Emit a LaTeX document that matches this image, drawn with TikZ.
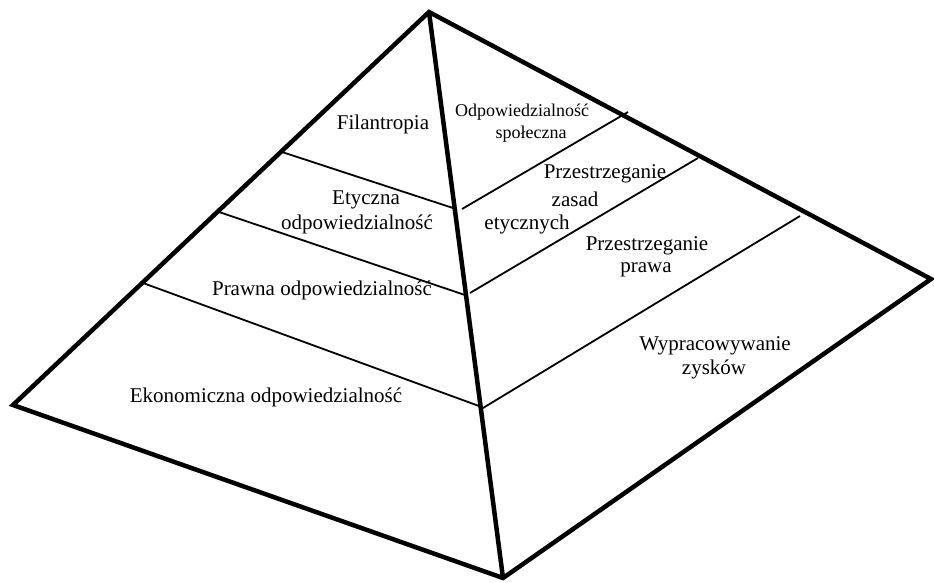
\documentclass[tikz,border=0pt]{standalone}
\usepackage{fontspec}
\setmainfont{Liberation Serif}
\begin{document}
\begin{tikzpicture}[x=1pt,y=-1pt,
  outer/.style={line width=4.5pt,line join=miter},
  band/.style={line width=1.8pt},
  lbl/.style={inner sep=0pt,font=\fontsize{21}{24}\selectfont},
  small/.style={inner sep=0pt,font=\fontsize{18}{21}\selectfont}]
\useasboundingbox (0,0) rectangle (934,582);
\coordinate (A) at (429,12);
\coordinate (L) at (13,405);
\coordinate (R) at (931,279);
\coordinate (B) at (503,578);
\draw[outer] (L) -- (A) -- (R) -- (B) -- cycle;
\draw[outer] (A) -- (B);
% left face bands
\coordinate (l1a) at (282,152); \coordinate (l1b) at (453,208);
\coordinate (l2a) at (219,212); \coordinate (l2b) at (465,295);
\coordinate (l3a) at (143,283); \coordinate (l3b) at (479,406);
\draw[band] (l1a) -- (l1b);
\draw[band] (l2a) -- (l2b);
\draw[band] (l3a) -- (l3b);
% right face bands
\coordinate (r1a) at (462,209); \coordinate (r1b) at (628,112);
\coordinate (r2a) at (470,293); \coordinate (r2b) at (698,158);
\coordinate (r3a) at (483,408); \coordinate (r3b) at (800,216);
\draw[band] (r1a) -- (r1b);
\draw[band] (r2a) -- (r2b);
\draw[band] (r3a) -- (r3b);
% labels left
\node[lbl] (fil) at (383,124) {Filantropia};
\node[lbl] (ety1) at (366,200) {Etyczna};
\node[lbl] (ety2) at (357,224) {odpowiedzialność};
\node[lbl] (praw) at (322,290) {Prawna odpowiedzialność};
\node[lbl] (eko) at (266,397) {Ekonomiczna odpowiedzialność};
% labels right
\node[small] (ods1) at (522,112) {Odpowiedzialność};
\node[small] (ods2) at (531,134) {społeczna};
\node[lbl] (pz1) at (605,174) {Przestrzeganie};
\node[lbl] (pz2) at (575,199) {zasad};
\node[lbl] (pz3) at (527,224) {etycznych};
\node[lbl] (pp1) at (647,246) {Przestrzeganie};
\node[lbl] (pp2) at (646,270) {prawa};
\node[lbl] (wz1) at (715,346) {Wypracowywanie};
\node[lbl] (wz2) at (714,369) {zysków};
\end{tikzpicture}
\end{document}
